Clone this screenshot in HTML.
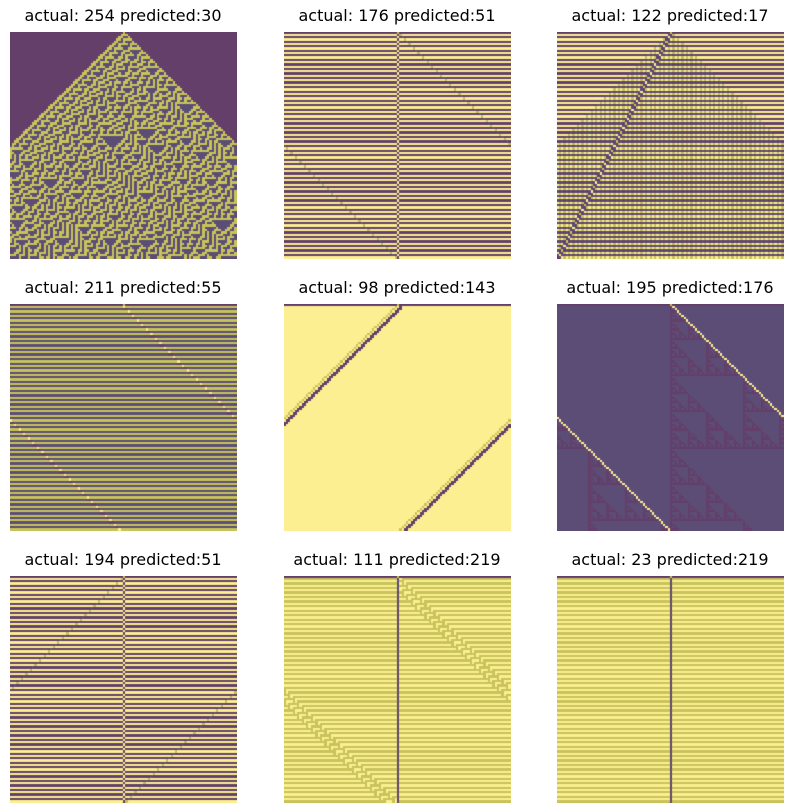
<!DOCTYPE html>
<html><head><meta charset="utf-8">
<style>
body{margin:0;background:#fff;width:793px;height:812px;position:relative;overflow:hidden;font-family:"DejaVu Sans","Liberation Sans",sans-serif;}
.title{position:absolute;width:260px;text-align:center;font-size:16px;color:#000;line-height:20px;}
canvas{position:absolute;width:227px;height:227px;}
</style></head>
<body>
<script>
const actualRules=[254,176,122,211,98,195,194,111,23];
const predictedRules=[30,51,17,55,143,176,51,219,219];
const panelX=[10,284,557];
const panelY=[32,304,576];
const N=100, STEPS=100;
function run(rule){
  let row=new Array(N).fill(0); row[N/2]=1;
  const out=[row];
  for(let t=1;t<STEPS;t++){
    const nr=new Array(N);
    for(let i=0;i<N;i++){
      const l=row[(i-1+N)%N],c=row[i],r=row[(i+1)%N];
      nr[i]=(rule>>(l*4+c*2+r))&1;
    }
    out.push(nr);row=nr;
  }
  return out;
}
// color by (actual,predicted)
const colors={"00":"#633f6a","01":"#fbef91","11":"#c9c35c","10":"#5b4d76"};
for(let k=0;k<9;k++){
  const col=k%3,rw=Math.floor(k/3);
  const t=document.createElement('div');
  t.className='title';
  
  
  t.style.left=(panelX[col]+113-130)+'px';
  t.style.top=(panelY[rw]-26)+'px';
  t.textContent='actual: '+actualRules[k]+' predicted:'+predictedRules[k];
  document.body.appendChild(t);
  const cv=document.createElement('canvas');
  
  
  cv.width=227;cv.height=227;
  cv.style.left=panelX[col]+'px';cv.style.top=panelY[rw]+'px';
  document.body.appendChild(cv);
  const ctx=cv.getContext('2d');
  const A=run(actualRules[k]),P=run(predictedRules[k]);
  const s=227/N;
  for(let y=0;y<STEPS;y++)for(let x=0;x<N;x++){
    ctx.fillStyle=colors[""+A[y][x]+P[y][x]];
    ctx.fillRect(Math.floor(x*s),Math.floor(y*s),Math.ceil(s)+1,Math.ceil(s)+1);
  }
}
</script>
</body></html>
